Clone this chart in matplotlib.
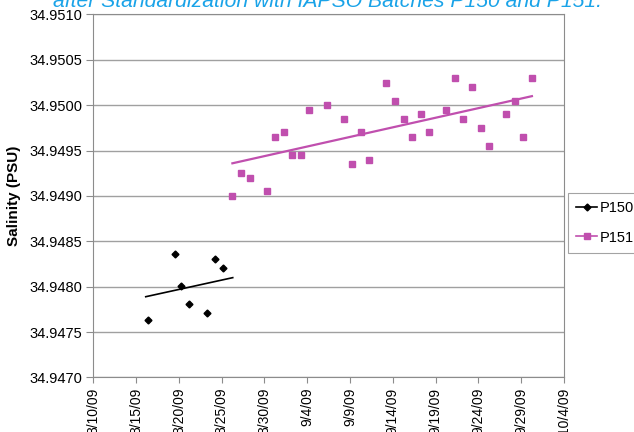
import matplotlib
matplotlib.use("Agg")
import matplotlib.pyplot as plt
import matplotlib.dates as mdates
import numpy as np
import pandas as pd

plt.rcParams['font.family'] = ['Liberation Sans', 'DejaVu Sans']

# P150 batch readings
p150_dates = ["2009-08-16 08:00", "2009-08-19 12:00", "2009-08-20 06:00", "2009-08-21 05:00",
              "2009-08-23 06:00", "2009-08-24 05:00", "2009-08-25 05:00"]
p150_sal = [34.94763, 34.94836, 34.94801, 34.94781, 34.94771, 34.94831, 34.94821]

# P151 batch readings (taken around 06:00 each day)
p151_dates = ["2009-08-26", "2009-08-27", "2009-08-28", "2009-08-30", "2009-08-31",
              "2009-09-01", "2009-09-02", "2009-09-03", "2009-09-04", "2009-09-06",
              "2009-09-08", "2009-09-09", "2009-09-10", "2009-09-11", "2009-09-13",
              "2009-09-14", "2009-09-15", "2009-09-16", "2009-09-17", "2009-09-18",
              "2009-09-20", "2009-09-21", "2009-09-22", "2009-09-23", "2009-09-24",
              "2009-09-25", "2009-09-27", "2009-09-28", "2009-09-29", "2009-09-30"]
p151_sal = [34.94900, 34.94925, 34.94920, 34.94905, 34.94965,
            34.94970, 34.94945, 34.94945, 34.94995, 34.95000,
            34.94985, 34.94935, 34.94970, 34.94940, 34.95025,
            34.95005, 34.94985, 34.94965, 34.94990, 34.94970,
            34.94995, 34.95030, 34.94985, 34.95020, 34.94975,
            34.94955, 34.94990, 34.95005, 34.94965, 34.95030]

# linear trendlines as drawn in the original (end points)
trend150_dates = ["2009-08-16 03:00", "2009-08-26 07:00"]
trend150_sal = [34.94789, 34.94810]
trend151_dates = ["2009-08-26 06:00", "2009-09-30 06:00"]
trend151_sal = [34.94936, 34.95010]

title = "after Standardization with IAPSO Batches P150 and P151."

x150 = mdates.date2num(pd.to_datetime(p150_dates))
x151 = mdates.date2num(pd.to_datetime(p151_dates) + pd.Timedelta(hours=6))

fig = plt.figure(figsize=(6.34, 4.32), dpi=100)
ax = fig.add_axes([0.1472, 0.1262, 0.7424, 0.8403])

ax.plot(x150, p150_sal, linestyle='none', marker='D', markersize=3.5, color='black', label='P150')
ax.plot(x151, p151_sal, linestyle='none', marker='s', markersize=5, color='#c04fae', label='P151')

ax.plot(mdates.date2num(pd.to_datetime(trend150_dates)), trend150_sal, color='black', linewidth=1.2)
ax.plot(mdates.date2num(pd.to_datetime(trend151_dates)), trend151_sal, color='#c04fae', linewidth=1.6)

ax.set_xlim(mdates.date2num(pd.Timestamp("2009-08-10")), mdates.date2num(pd.Timestamp("2009-10-04")))
ax.set_ylim(34.9470, 34.9510)
ticks = pd.date_range("2009-08-10", "2009-10-04", freq="5D")
ax.set_xticks(mdates.date2num(ticks))
ax.set_xticklabels([f"{t.month}/{t.day}/09" for t in ticks], rotation=90, fontsize=10)
yt = np.arange(34.9470, 34.95101, 0.0005)
ax.set_yticks(yt)
ax.set_yticklabels([f"{v:.4f}" for v in yt], fontsize=10.5)
ax.yaxis.grid(True, color='#a0a0a0', linewidth=1)
ax.set_axisbelow(True)
for s in ax.spines.values():
    s.set_color('#8c8c8c')
ax.tick_params(axis='y', length=5, color='#8c8c8c', pad=3)
ax.tick_params(axis='x', length=4, color='#8c8c8c', pad=3.5)
ax.set_ylabel("Salinity (PSU)", fontsize=11, fontweight='bold', labelpad=6)

fig.text(0.517, 0.984, title, color='#1aa3e8', fontsize=15.25, style='italic',
         ha='center', va='baseline')

leg = fig.legend(loc='center left', bbox_to_anchor=(0.896, 0.484), frameon=True,
                 fancybox=False, edgecolor='#8c8c8c', fontsize=10.5, handlelength=1.45,
                 borderpad=0.55, labelspacing=1.05, handletextpad=0.15, borderaxespad=0)
leg.get_frame().set_linewidth(0.8)
for h in leg.legend_handles:
    h.set_linestyle('-')
    h.set_linewidth(1.2)

fig.savefig("out.png", dpi=100)
